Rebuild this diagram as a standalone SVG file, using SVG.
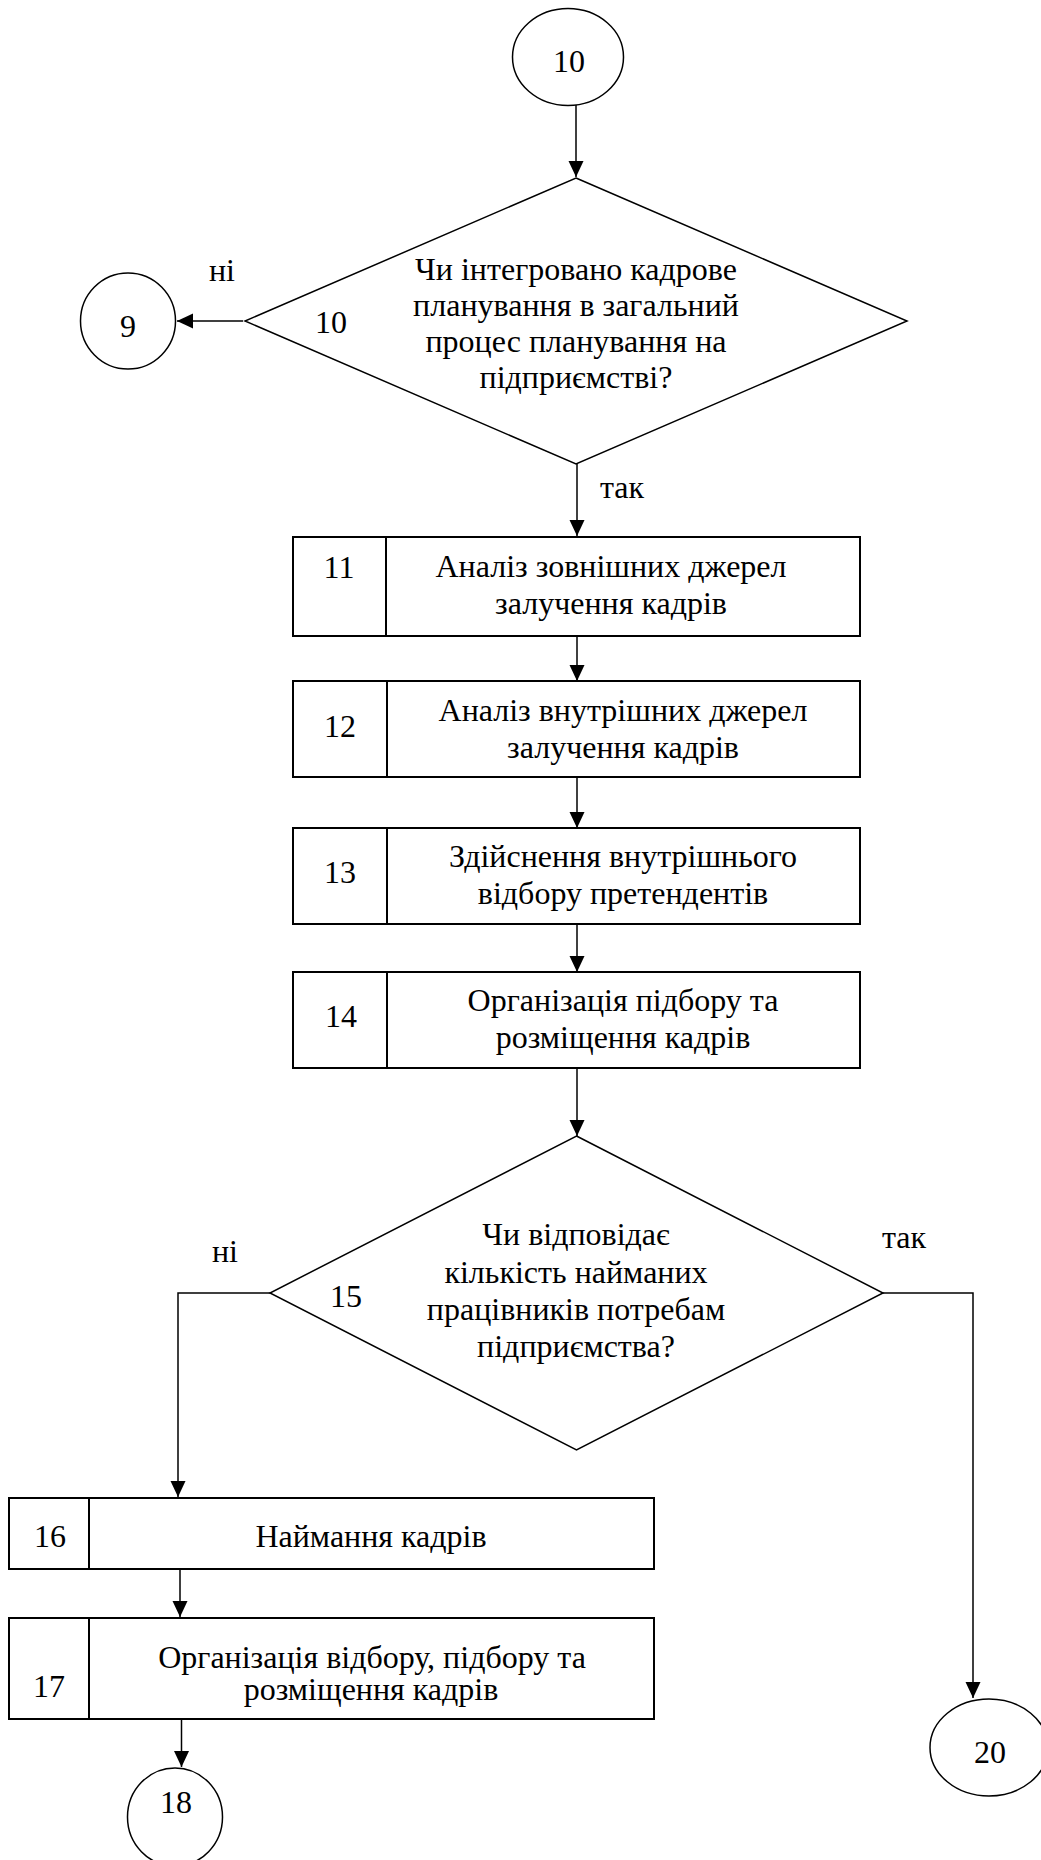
<svg xmlns="http://www.w3.org/2000/svg" width="1041" height="1860" viewBox="0 0 1041 1860">
<style>
text{font-family:"Liberation Serif","Times New Roman",serif;font-size:32px;fill:#000;text-anchor:middle}
.sh{fill:#fff;stroke:#000;stroke-width:1.5}
.bx{fill:#fff;stroke:#000;stroke-width:2}
.cn{fill:none;stroke:#000;stroke-width:1.5}
</style>
<defs>
<marker id="ah" markerUnits="userSpaceOnUse" markerWidth="17" markerHeight="16" refX="16" refY="7.5" orient="auto">
<path d="M0,0 L16,7.5 L0,15 z" fill="#000"/>
</marker>
</defs>
<rect width="1041" height="1860" fill="#fff"/>
<g id="connectors">
<line class="cn" x1="576" y1="105" x2="576" y2="177" marker-end="url(#ah)"/>
<line class="cn" x1="243" y1="321" x2="177" y2="321" marker-end="url(#ah)"/>
<line class="cn" x1="577" y1="464" x2="577" y2="536" marker-end="url(#ah)"/>
<line class="cn" x1="577" y1="636" x2="577" y2="681" marker-end="url(#ah)"/>
<line class="cn" x1="577" y1="777" x2="577" y2="828" marker-end="url(#ah)"/>
<line class="cn" x1="577" y1="924" x2="577" y2="972" marker-end="url(#ah)"/>
<line class="cn" x1="577" y1="1068" x2="577" y2="1136" marker-end="url(#ah)"/>
<polyline class="cn" points="270,1293 178,1293 178,1497" marker-end="url(#ah)"/>
<polyline class="cn" points="883,1293 973,1293 973,1698" marker-end="url(#ah)"/>
<line class="cn" x1="180" y1="1570" x2="180" y2="1617" marker-end="url(#ah)"/>
<line class="cn" x1="181.5" y1="1718" x2="181.5" y2="1767" marker-end="url(#ah)"/>
<text x="222" y="281">ні</text>
<text x="622" y="498">так</text>
<text x="225" y="1262">ні</text>
<text x="904" y="1248">так</text>
</g>
<g id="node-c10">
<ellipse class="sh" cx="568" cy="57" rx="55.5" ry="48.5"/>
<text x="569" y="72">10</text>
</g>
<g id="node-c9">
<ellipse class="sh" cx="128" cy="321" rx="47.5" ry="48"/>
<text x="128" y="337">9</text>
</g>
<g id="node-d10">
<polygon class="sh" points="576,178 907,321 576,464 245,321"/>
<text x="331" y="333">10</text>
<text x="576" y="280">Чи інтегровано кадрове</text>
<text x="576" y="316">планування в загальний</text>
<text x="576" y="352">процес планування на</text>
<text x="576" y="388">підприємстві?</text>
</g>
<g id="node-b11">
<rect class="bx" x="293" y="537" width="567" height="99"/>
<line class="bx" x1="386" y1="537" x2="386" y2="636"/>
<text x="339" y="578">11</text>
<text x="611" y="577">Аналіз зовнішних джерел</text>
<text x="611" y="614">залучення кадрів</text>
</g>
<g id="node-b12">
<rect class="bx" x="293" y="681" width="567" height="96"/>
<line class="bx" x1="387" y1="681" x2="387" y2="777"/>
<text x="340" y="737">12</text>
<text x="623" y="721">Аналіз внутрішних джерел</text>
<text x="623" y="758">залучення кадрів</text>
</g>
<g id="node-b13">
<rect class="bx" x="293" y="828" width="567" height="96"/>
<line class="bx" x1="387" y1="828" x2="387" y2="924"/>
<text x="340" y="883">13</text>
<text x="623" y="867">Здійснення внутрішнього</text>
<text x="623" y="904">відбору претендентів</text>
</g>
<g id="node-b14">
<rect class="bx" x="293" y="972" width="567" height="96"/>
<line class="bx" x1="387" y1="972" x2="387" y2="1068"/>
<text x="341" y="1027">14</text>
<text x="623" y="1011">Організація підбору та</text>
<text x="623" y="1048">розміщення кадрів</text>
</g>
<g id="node-d15">
<polygon class="sh" points="576.5,1136 883,1293 576.5,1450 270,1293"/>
<text x="346" y="1307">15</text>
<text x="576" y="1245">Чи відповідає</text>
<text x="576" y="1283">кількість найманих</text>
<text x="576" y="1320">працівників потребам</text>
<text x="576" y="1357">підприємства?</text>
</g>
<g id="node-b16">
<rect class="bx" x="9" y="1498" width="645" height="71"/>
<line class="bx" x1="89" y1="1498" x2="89" y2="1569"/>
<text x="50" y="1547">16</text>
<text x="371" y="1547">Наймання кадрів</text>
</g>
<g id="node-b17">
<rect class="bx" x="9" y="1618" width="645" height="101"/>
<line class="bx" x1="89" y1="1618" x2="89" y2="1719"/>
<text x="49" y="1697">17</text>
<text x="372" y="1668">Організація відбору, підбору та</text>
<text x="371" y="1700">розміщення кадрів</text>
</g>
<g id="node-c18">
<ellipse class="sh" cx="175" cy="1817" rx="47.5" ry="49"/>
<text x="176" y="1813">18</text>
</g>
<g id="node-c20">
<ellipse class="sh" cx="989" cy="1747.5" rx="59" ry="48.5"/>
<text x="990" y="1763">20</text>
</g>
</svg>
